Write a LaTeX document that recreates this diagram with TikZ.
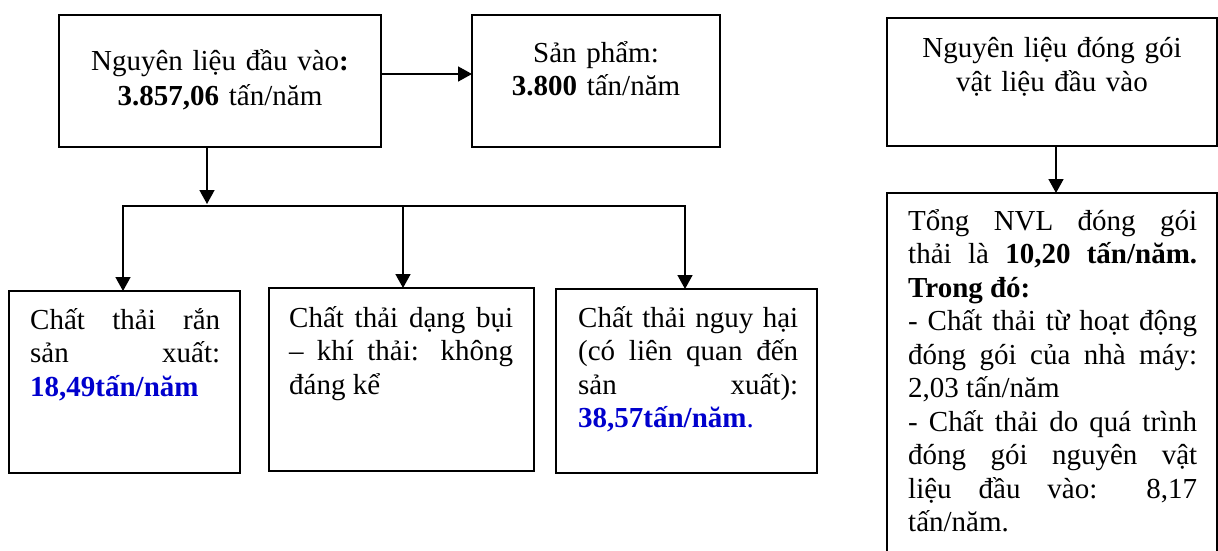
\documentclass[tikz,border=0pt]{standalone}
\usepackage{fontspec}
\setmainfont{Liberation Serif}
\usetikzlibrary{arrows.meta}
\definecolor{txtblue}{RGB}{0,0,205}
\begin{document}
\begin{tikzpicture}[x=1pt,y=-1pt,
  box/.style={draw,line width=1.6pt,inner sep=0pt,outer sep=0pt},
  arr/.style={line width=1.6pt,-{Triangle[width=15pt,length=14pt]}},
  conn/.style={line width=1.6pt},
  ctext/.style={inner sep=0pt,anchor=base,align=center,font=\fontsize{29}{34}\selectfont},
  jtext/.style={inner sep=0pt,anchor=base west,align=justify,font=\fontsize{29}{33.5}\selectfont}]
\useasboundingbox (0,0) rectangle (1218,550);
\clip (0,0) rectangle (1218,550);
% boxes
\node[box,minimum width=322pt,minimum height=132pt] (A) at (220,81) {};
\node[box,minimum width=248pt,minimum height=132pt] (B) at (596,81) {};
\node[box,minimum width=330pt,minimum height=128pt] (D) at (1052,82) {};
\node[box,minimum width=231pt,minimum height=182pt] (C1) at (124.5,382) {};
\node[box,minimum width=265pt,minimum height=183pt] (C2) at (401.5,379.5) {};
\node[box,minimum width=261pt,minimum height=184pt] (C3) at (686.5,381) {};
\node[box,minimum width=330pt,minimum height=407pt] (E) at (1052,396.5) {};
% texts
\node[ctext,text width=300pt] (tA) at (220,70) {Nguyên liệu đầu vào\textbf{:}\\[1.5pt]\textbf{3.857,06} tấn/năm};
\node[ctext,text width=240pt] (tB) at (596,62) {Sản phẩm:\\[-1pt]\textbf{3.800} tấn/năm};
\node[ctext,text width=320pt] (tD) at (1052,57) {Nguyên liệu đóng gói\\vật liệu đầu vào};
\node[jtext,text width=190pt] (tC1) at (30,329) {Chất thải rắn\linebreak sản xuất:\linebreak {\color{txtblue}\bfseries 18,49tấn/năm}};
\node[jtext,text width=224pt] (tC2) at (289,327) {Chất thải dạng bụi\linebreak – khí thải: không\linebreak đáng kể};
\node[jtext,text width=220pt] (tC3) at (578,327) {Chất thải nguy hại\linebreak (có liên quan đến\linebreak sản xuất):\linebreak {\color{txtblue}\bfseries 38,57tấn/năm}{\color{txtblue}.}};
\node[jtext,text width=289pt] (tE) at (908,230) {Tổng NVL đóng gói\linebreak thải là \textbf{10,20 tấn/năm.}\linebreak \textbf{Trong đó:}\par - Chất thải từ hoạt động\linebreak đóng gói của nhà máy:\linebreak 2,03 tấn/năm\par - Chất thải do quá trình\linebreak đóng gói nguyên vật\linebreak liệu đầu vào: 8,17\linebreak tấn/năm.};
% connectors
\coordinate (J) at (207,206);
\coordinate (L) at (123,206);
\coordinate (M) at (403,206);
\coordinate (R) at (685,206);
\draw[arr] ([yshift=7pt]A.east) -- ([yshift=7pt]B.west);
\draw[arr] (A.south -| J) -- ([yshift=2pt]J);
\draw[arr] (M) -| (C1.north -| L);
\draw[arr] (M) -| (C3.north -| R);
\draw[arr] (M) -- (C2.north -| M);
\draw[arr] ([xshift=4pt]D.south) -- ([xshift=4pt]E.north);
\end{tikzpicture}
\end{document}
